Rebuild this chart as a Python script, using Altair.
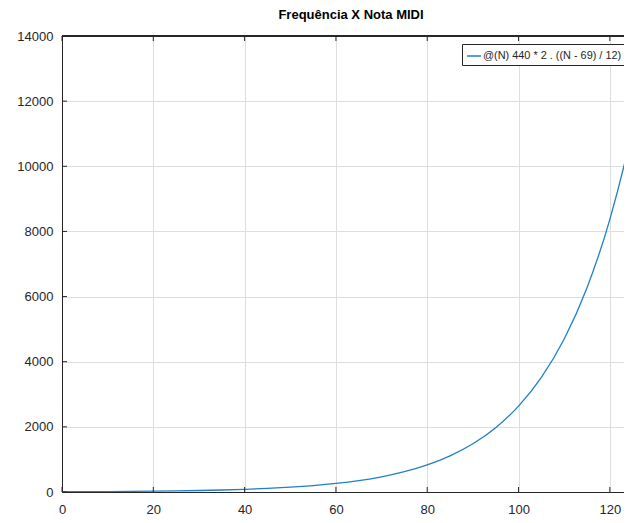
import altair as alt
import pandas as pd

# MIDI note number and frequency (Hz)
notes = [0, 5, 10, 15, 20, 25, 30, 35, 40, 45, 50, 55, 60, 65, 70, 75, 80,
         85, 90, 95, 100, 105, 110, 115, 120, 125, 127]
freqs = [8.18, 10.91, 14.57, 19.45, 25.96, 34.65, 46.25, 61.74, 82.41, 110.0,
         146.83, 196.0, 261.63, 349.23, 466.16, 622.25, 830.61, 1108.73,
         1479.98, 1975.53, 2637.02, 3520.0, 4698.64, 6271.93, 8372.02,
         11175.3, 12543.85]
x_ticks = [0, 20, 40, 60, 80, 100, 120]
y_ticks = [0, 2000, 4000, 6000, 8000, 10000, 12000, 14000]
series_label = "@(N) 440 * 2 . ((N - 69) / 12)"
title_text = "Frequência X Nota MIDI"

W, H = 562, 456
AX = "#262626"
FONT = "Liberation Sans"
LINE = "#1f7fc9"

df = pd.DataFrame({"N": notes, "f": freqs, "serie": [series_label] * len(notes)})
xt = pd.DataFrame({"t": x_ticks})
yt = pd.DataFrame({"t": y_ticks})

x_scale = alt.Scale(domain=[0, 123.1], nice=False, zero=False)
y_scale = alt.Scale(domain=[0, 14000], nice=False)

x_axis = alt.Axis(values=x_ticks, title=None, grid=True, gridColor="#dedede",
                  tickSize=0, labelPadding=11, domainColor=AX, labelColor=AX,
                  labelFont=FONT, labelFontSize=13, labelFlush=False, format="d")
y_axis = alt.Axis(values=y_ticks, title=None, grid=True, gridColor="#dedede",
                  tickSize=0, labelPadding=9, domainColor=AX, labelColor=AX,
                  labelFont=FONT, labelFontSize=13, labelFlush=False, format="d")

line = alt.Chart(df).mark_line(strokeWidth=1.3, clip=True, interpolate="monotone").encode(
    x=alt.X("N:Q", scale=x_scale, axis=x_axis),
    y=alt.Y("f:Q", scale=y_scale, axis=y_axis),
    color=alt.Color("serie:N", scale=alt.Scale(range=[LINE]),
                    legend=alt.Legend(title=None, orient="none", legendX=400, legendY=8,
                                      fillColor="white", strokeColor=AX, padding=4,
                                      symbolType="stroke", symbolSize=196,
                                      symbolStrokeWidth=1.5, labelFont=FONT,
                                      labelFontSize=10.9, labelColor=AX,
                                      labelOffset=1, labelLimit=400)),
)

bottom_ticks = alt.Chart(xt).mark_rule(color=AX, strokeWidth=1).encode(
    x=alt.X("t:Q", scale=x_scale, axis=x_axis),
    y=alt.value(H), y2=alt.value(H - 5),
)
top_ticks = alt.Chart(xt).mark_rule(color=AX, strokeWidth=1).encode(
    x=alt.X("t:Q", scale=x_scale, axis=x_axis),
    y=alt.value(0), y2=alt.value(5),
)
left_ticks = alt.Chart(yt).mark_rule(color=AX, strokeWidth=1).encode(
    y=alt.Y("t:Q", scale=y_scale, axis=y_axis),
    x=alt.value(0), x2=alt.value(5),
)
top_border = alt.Chart(xt).mark_rule(color=AX, strokeWidth=1).encode(
    x=alt.value(0), x2=alt.value(W), y=alt.value(0),
)

chart = alt.layer(line, bottom_ticks, top_ticks, left_ticks, top_border).properties(
    width=W, height=H,
    padding={"left": 54, "top": 28, "right": 0, "bottom": 23},
    autosize=alt.AutoSizeParams(type="none"),
    title=alt.Title(title_text, font=FONT, fontSize=13, fontWeight="bold",
                    color="black", offset=8, anchor="middle", dx=8),
).configure_view(stroke=None)

chart.save("out.html", embed_options={"renderer": "svg", "actions": False})
